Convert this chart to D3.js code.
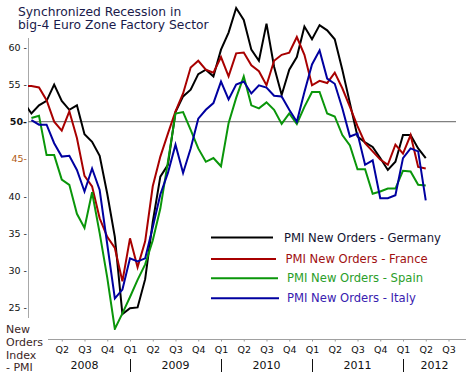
<!DOCTYPE html>
<html><head><meta charset="utf-8">
<script src="https://cdn.jsdelivr.net/npm/d3@7"></script>
<style>
html,body{margin:0;padding:0;background:#fff;}
svg{display:block;font-family:"DejaVu Sans",Verdana,sans-serif;}
</style></head>
<body>
<svg id="chart" width="466" height="377"></svg>
<script>
// Month index: 0 = Jan 2008; data run Nov 2007 (-2) .. Apr 2012 (51)
const startMonth = -2;
const germany = [52.6,51.1,52.2,52.8,55.0,52.8,51.6,52.2,48.3,47.3,45.4,40.3,34.5,24.1,24.9,25.0,28.8,36.5,42.6,44.2,51.3,53.4,54.3,56.4,57.0,56.1,59.7,62.0,65.3,63.7,59.7,58.2,63.2,57.4,53.6,57.0,58.7,62.8,61.1,63.0,62.3,61.1,57.0,52.5,48.0,47.2,46.6,45.1,43.5,44.6,48.2,48.2,46.4,45.1];
const france = [54.8,54.8,54.6,52.9,50.0,48.8,51.4,47.8,42.7,41.3,37.0,34.5,33.0,28.5,34.3,30.4,33.9,41.3,45.3,48.4,51.4,53.8,57.3,58.2,57.0,56.6,58.7,56.1,59.2,59.3,57.6,56.8,54.9,58.2,59.0,59.3,61.4,59.0,54.9,55.5,55.2,56.6,54.5,52.0,49.4,47.1,46.0,44.9,44.2,46.9,45.7,48.2,43.9,43.7];
const spain = [null,50.5,50.8,45.5,45.5,42.2,41.5,37.6,35.7,40.5,35.0,29.0,22.1,24.2,26.4,28.7,30.8,34.0,38.3,44.6,51.1,51.3,48.9,46.4,44.6,45.1,44.0,49.8,53.2,56.1,52.2,51.8,52.6,51.6,49.7,51.1,49.7,52.0,54.0,54.0,51.1,50.7,48.2,46.8,43.6,43.6,40.3,40.6,41.0,41.0,43.4,43.3,41.5,41.4];
const italy = [null,50.2,49.6,49.6,47.1,45.3,45.4,43.5,40.6,43.7,40.8,33.5,26.2,27.4,31.6,31.2,31.6,35.8,40.2,43.1,46.9,43.1,46.4,50.4,51.6,52.5,55.4,53.0,55.0,55.4,53.8,54.9,54.6,53.5,53.4,51.6,50.0,54.0,57.7,59.6,55.8,55.1,51.8,48.0,48.4,44.2,44.8,39.7,39.7,40.1,45.1,46.4,46.0,39.4];

const seriesNames = ["PMI New Orders - Germany","PMI New Orders - France","PMI New Orders - Spain","PMI New Orders - Italy"];
const seriesData = [germany, france, spain, italy];
const lineColors = ["#000000","#a80000","#0a960a","#0000a0"];
const textColors = ["#141432","#a01010","#2a9e2a","#3820b0"];

const yTicks = [25,30,35,40,45,50,55,60];
const yTickText = {60:"60 -",55:"55 -",50:"50-",45:"45-",40:"40 -",35:"35 -",30:"30 -",25:"25 -"};
const quarterTicks = d3.range(3, 55, 3);   // Apr 2008 .. Jul 2012
const years = ["2008","2009","2010","2011","2012"];
const titleLines = ["Synchronized Recession in","big-4 Euro Zone Factory Sector"];
const yAxisTitle = ["New","Orders","Index","- PMI"];

const W = 466, H = 377;
const svg = d3.select("#chart");
const x = d3.scaleLinear().domain([0,48]).range([39,403]);
const y = d3.scaleLinear().domain([25,60]).range([307.4,47.4]);

svg.append("defs").append("clipPath").attr("id","plotclip")
  .append("rect").attr("x",28).attr("y",0).attr("width",W-28).attr("height",330);

// title
svg.append("g").selectAll("text").data(titleLines).join("text")
  .attr("x",18).attr("y",(d,i)=>15.5+i*13.5)
  .attr("font-size","12.3px").attr("fill","#1a1a4a").text(d=>d);

// y axis
const yAxis = d3.axisLeft(y).tickValues(yTicks).tickSize(0).tickPadding(0)
  .tickFormat(d=>yTickText[d]);
const gy = svg.append("g").attr("transform","translate(27,0)").call(yAxis);
gy.select(".domain").remove();
gy.selectAll("text").attr("font-size","9.5px").attr("font-family","DejaVu Sans, Verdana, sans-serif")
  .attr("fill",d=>d===45?"#b05a10":"#111")
  .attr("font-weight",d=>d===50?"bold":"normal");
svg.append("line").attr("x1",28.5).attr("x2",28.5).attr("y1",38).attr("y2",318)
  .attr("stroke","#a8a8a8").attr("stroke-width",1);

// 50 reference line
svg.append("line").attr("x1",28).attr("x2",456).attr("y1",y(50)).attr("y2",y(50))
  .attr("stroke","#808080").attr("stroke-width",1.3);

// x axis
const xAxis = d3.axisBottom(x).tickValues(quarterTicks).tickSize(2).tickPadding(5)
  .tickFormat(m=>"Q"+(Math.floor((m%12)/3)+1));
const gx = svg.append("g").attr("transform","translate(0,339.5)").call(xAxis);
gx.select(".domain").remove();
gx.selectAll(".tick line").attr("stroke","#999");
gx.selectAll("text").attr("font-size","9.5px").attr("font-family","DejaVu Sans, Verdana, sans-serif").attr("fill","#111");
svg.append("line").attr("x1",48).attr("x2",W).attr("y1",339.5).attr("y2",339.5)
  .attr("stroke","#a0a0a0").attr("stroke-width",1);

// year labels and separators
svg.append("g").selectAll("text").data(years).join("text")
  .attr("x",(d,i)=> i<4 ? x(i*12+6) : (x(48)+W)/2)
  .attr("y",368.5).attr("text-anchor","middle").attr("font-size","11px").attr("fill","#111").text(d=>d);
svg.append("g").selectAll("line").data([12,24,36,48]).join("line")
  .attr("x1",d=>Math.round(x(d))+0.5).attr("x2",d=>Math.round(x(d))+0.5)
  .attr("y1",359).attr("y2",372).attr("stroke","#111").attr("stroke-width",1);

// y axis title
svg.append("g").selectAll("text").data(yAxisTitle).join("text")
  .attr("x",6).attr("y",(d,i)=>333+i*12.8).attr("font-size","11px").attr("fill","#3c2626").text(d=>d);

// lines
const line = d3.line().defined(d=>d.v!=null).x(d=>x(d.m)).y(d=>y(d.v));
const plot = svg.append("g").attr("clip-path","url(#plotclip)");
seriesData.forEach((s,k)=>{
  const pts = s.map((v,i)=>({m:startMonth+i, v:v}));
  plot.append("path").datum(pts).attr("d",line)
    .attr("fill","none").attr("stroke",lineColors[k]).attr("stroke-width",2)
    .attr("stroke-linejoin","miter");
});

// legend
const legY = [237.5,259,278.3,298.3];
const legEnd = [273,276,278,279];
const legText = [284,285.5,287,287];
const lg = svg.append("g");
seriesNames.forEach((n,k)=>{
  lg.append("line").attr("x1",211).attr("x2",legEnd[k]).attr("y1",legY[k]).attr("y2",legY[k])
    .attr("stroke",lineColors[k]).attr("stroke-width",2);
  lg.append("text").attr("x",legText[k]).attr("y",legY[k]+4).attr("font-size","11.6px")
    .attr("fill",textColors[k]).text(n);
});
</script>
</body></html>
